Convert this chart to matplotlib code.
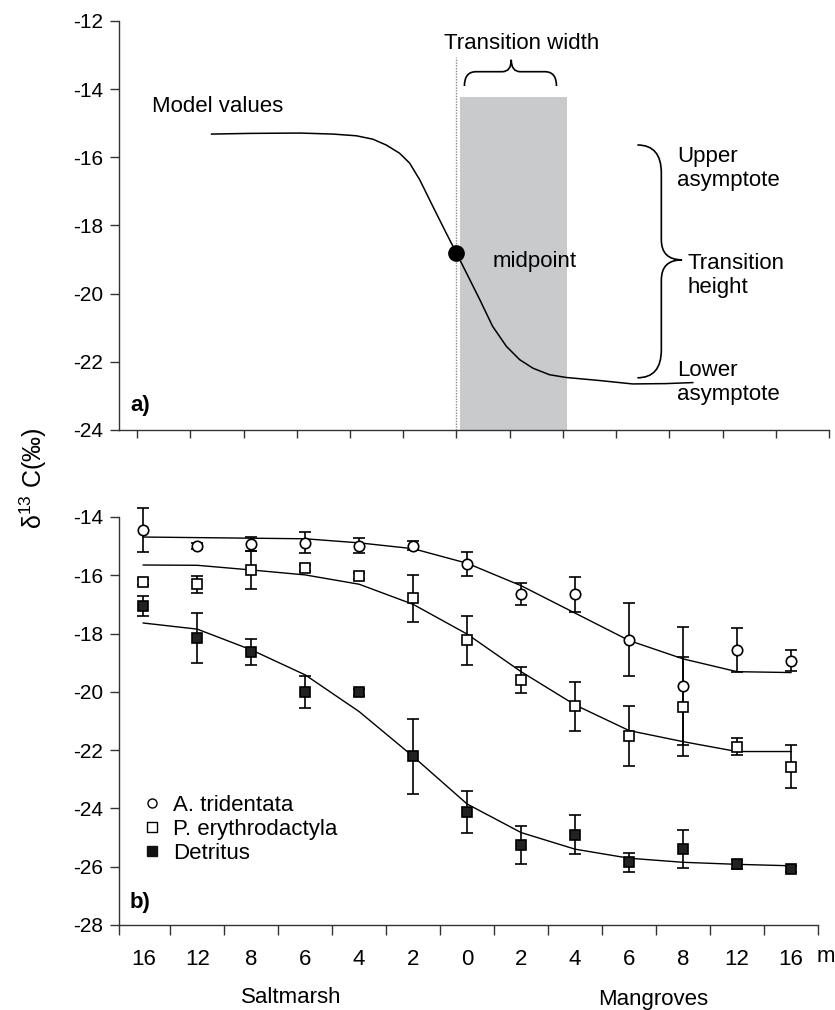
import matplotlib
matplotlib.use("Agg")
import matplotlib.pyplot as plt
from matplotlib.path import Path
from matplotlib.patches import PathPatch, Rectangle
from matplotlib.lines import Line2D

plt.rcParams['font.family'] = ['Liberation Sans', 'DejaVu Sans']
plt.rcParams['mathtext.fontset'] = 'custom'
plt.rcParams['mathtext.rm'] = 'Liberation Sans'
plt.rcParams['mathtext.it'] = 'Liberation Sans:italic'
plt.rcParams['mathtext.bf'] = 'Liberation Sans:bold'

# ########################## DATA ##########################
# panel a) conceptual model curve (x in tick units, read off the picture)
model_x = [1.40, 2.12, 3.06, 3.68, 4.12, 4.43, 4.68, 4.93, 5.12, 5.31, 5.56, 5.81, 6.00,
           6.19, 6.44, 6.68, 6.94, 7.19, 7.44, 7.75, 8.06, 8.69, 9.31, 9.94, 10.44]
model_y = [-15.32, -15.30, -15.29, -15.32, -15.37, -15.47, -15.64, -15.88, -16.17, -16.66,
           -17.45, -18.23, -18.81, -19.40, -20.18, -20.96, -21.55, -21.94, -22.19, -22.38,
           -22.46, -22.55, -22.65, -22.64, -22.61]
midpoint_x = 6.00
midpoint_y = -18.81
width_left = 6.06
width_right = 8.07
width_top = -14.24

# panel b) distance from the ecotone (m)
sites = ['16', '12', '8', '6', '4', '2', '0', '2', '4', '6', '8', '12', '16']

trid_mean = [-14.45, -14.99, -14.93, -14.88, -14.99, -14.99, -15.62, -16.64, -16.66, -18.22, -19.80, -18.56, -18.93]
trid_err = [0.76, 0.10, 0.25, 0.35, 0.25, 0.15, 0.40, 0.37, 0.60, 1.25, 2.03, 0.75, 0.35]
trid_fit = [-14.69, -14.71, -14.73, -14.75, -14.89, -15.09, -15.59, -16.36, -17.30, -18.24, -18.87, -19.31, -19.34]

ery_mean = [-16.24, -16.31, -15.82, -15.74, -16.02, -16.79, -18.24, -19.60, -20.50, -21.51, -20.51, -21.88, -22.57]
ery_err = [0.10, 0.30, 0.66, 0.10, 0.10, 0.80, 0.83, 0.44, 0.85, 1.03, 1.69, 0.30, 0.73]
ery_fit = [-15.65, -15.66, -15.82, -15.99, -16.31, -17.00, -18.02, -19.31, -20.45, -21.33, -21.71, -22.05, -22.05]

det_mean = [-17.05, -18.16, -18.64, -20.01, -20.01, -22.22, -24.14, -25.25, -24.90, -25.85, -25.39, -25.92, -26.08]
det_err = [0.35, 0.86, 0.44, 0.55, 0.12, 1.30, 0.72, 0.66, 0.68, 0.33, 0.65, 0.15, 0.10]
det_fit = [-17.64, -17.85, -18.56, -19.42, -20.68, -22.22, -23.85, -24.83, -25.40, -25.71, -25.85, -25.92, -25.97]

FS = 16
YFS = 15
SPINE = '#333333'


# ########################## HELPERS ##########################
def style_axes(ax):
    for s in ['top', 'right']:
        ax.spines[s].set_visible(False)
    for s in ['left', 'bottom']:
        ax.spines[s].set_color(SPINE)
        ax.spines[s].set_linewidth(1.0)
    ax.tick_params(axis='y', direction='out', length=6.5, width=1.0, color=SPINE, pad=5)


def brace_right(ax, x_end, x_spine, x_tip, y_top, y_mid, y_bot, r_end, r_tip):
    verts = [(x_end, y_top), (x_spine, y_top), (x_spine, y_top - r_end),
             (x_spine, y_mid + r_tip), (x_spine, y_mid), (x_tip, y_mid),
             (x_spine, y_mid), (x_spine, y_mid - r_tip),
             (x_spine, y_bot + r_end), (x_spine, y_bot), (x_end, y_bot)]
    codes = [Path.MOVETO, Path.CURVE3, Path.CURVE3, Path.LINETO, Path.CURVE3, Path.CURVE3,
             Path.CURVE3, Path.CURVE3, Path.LINETO, Path.CURVE3, Path.CURVE3]
    ax.add_patch(PathPatch(Path(verts, codes), fill=False, lw=1.2, color='black', clip_on=False))


def brace_up(ax, x_l, x_r, x_tip, y_end, y_spine, y_tip, r_end, r_tip):
    verts = [(x_l, y_end), (x_l, y_spine), (x_l + r_end, y_spine),
             (x_tip - r_tip, y_spine), (x_tip, y_spine), (x_tip, y_tip),
             (x_tip, y_spine), (x_tip + r_tip, y_spine),
             (x_r - r_end, y_spine), (x_r, y_spine), (x_r, y_end)]
    codes = [Path.MOVETO, Path.CURVE3, Path.CURVE3, Path.LINETO, Path.CURVE3, Path.CURVE3,
             Path.CURVE3, Path.CURVE3, Path.LINETO, Path.CURVE3, Path.CURVE3]
    ax.add_patch(PathPatch(Path(verts, codes), fill=False, lw=1.2, color='black', clip_on=False))


# ########################## FIGURE ##########################
fig = plt.figure(figsize=(8.35, 10.10), dpi=100)
ax1 = fig.add_axes([0.1425, 0.5743, 0.8503, 0.4050])
ax2 = fig.add_axes([0.1425, 0.0842, 0.8371, 0.4040])

# ---------------- panel a) ----------------
style_axes(ax1)
ax1.set_xlim(-0.34, 13.0)
ax1.set_ylim(-24, -12)
ax1.set_yticks(range(-24, -11, 2))
ax1.set_yticklabels([str(v) for v in range(-24, -11, 2)], fontsize=YFS)
ax1.set_xticks(range(14))
ax1.set_xticklabels([])
ax1.tick_params(axis='x', direction='out', length=6, width=1.0, color=SPINE)

ax1.add_patch(Rectangle((width_left, -24), width_right - width_left, width_top + 24,
                        facecolor='#c9cacc', edgecolor='none', zorder=1))
ax1.plot([midpoint_x, midpoint_x], [-24, -13.06], color='#8a8a8a', lw=1.0,
         ls=(0, (1, 1)), zorder=2)
ax1.plot(model_x, model_y, color='black', lw=1.1, zorder=3)
ax1.plot([midpoint_x], [midpoint_y], 'o', color='black', ms=11, zorder=4)

ax1.text(0.28, -14.52, 'Model values', fontsize=FS, ha='left', va='center')
ax1.text(7.22, -12.65, 'Transition width', fontsize=FS, ha='center', va='center')
ax1.text(6.68, -19.07, 'midpoint', fontsize=FS, ha='left', va='center')
ax1.text(10.15, -16.34, 'Upper\nasymptote', fontsize=FS, ha='left', va='center', linespacing=1.2)
ax1.text(10.34, -19.48, 'Transition\nheight', fontsize=FS, ha='left', va='center', linespacing=1.2)
ax1.text(10.15, -22.60, 'Lower\nasymptote', fontsize=FS, ha='left', va='center', linespacing=1.2)
ax1.text(0.0155, 0.059, 'a)', fontsize=FS, fontweight='bold', ha='left', va='center',
         transform=ax1.transAxes)

brace_up(ax1, 6.15, 7.88, 7.03, -13.91, -13.49, -13.14, 0.22, 0.17)
brace_right(ax1, 9.40, 9.85, 10.24, -15.64, -19.01, -22.47, 0.82, 0.59)

# ---------------- panel b) ----------------
style_axes(ax2)
x = list(range(len(sites)))
ax2.set_xlim(-0.45, 12.5)
ax2.set_ylim(-28, -14)
ax2.set_yticks(range(-28, -13, 2))
ax2.set_yticklabels([str(v) for v in range(-28, -13, 2)], fontsize=YFS)
ax2.set_xticks(x)
ax2.set_xticklabels(sites, fontsize=FS)
ax2.set_xticks([-0.45] + [i + 0.5 for i in x], minor=True)
ax2.tick_params(axis='x', which='major', length=0, pad=17)
ax2.tick_params(axis='x', which='minor', direction='out', length=7.5, width=1.0, color=SPINE)

for fit in [trid_fit, ery_fit, det_fit]:
    ax2.plot(x, fit, color='black', lw=1.0, zorder=2, clip_on=False)

ebkw = dict(ls='none', ecolor='black', elinewidth=1.2, capsize=4.5, capthick=1.2,
            mec='black', mew=1.2, zorder=3, clip_on=False)
series = [(trid_mean, trid_err, 'o', 'white', 7.5),
          (ery_mean, ery_err, 's', 'white', 6.5),
          (det_mean, det_err, 's', '#222222', 6.5)]
for mean, err, mk, fc, ms in series:
    eb = ax2.errorbar(x, mean, yerr=err, marker=mk, mfc=fc, ms=ms, **ebkw)
    for art in eb.lines[1] + eb.lines[2]:
        art.set_clip_on(False)

handles = [Line2D([], [], ls='none', marker='o', mfc='white', mec='black', mew=1.0, ms=6.5),
           Line2D([], [], ls='none', marker='s', mfc='white', mec='black', mew=1.0, ms=6.5),
           Line2D([], [], ls='none', marker='s', mfc='#111111', mec='#111111', mew=1.0, ms=6.5)]
ax2.legend(handles, ['A. tridentata', 'P. erythrodactyla', 'Detritus'], loc='upper left',
           bbox_to_anchor=(0.035, 0.318), frameon=False, fontsize=FS, handlelength=0.8,
           handletextpad=0.55, labelspacing=0.12, borderpad=0, borderaxespad=0)

ax2.text(0.0157, 0.056, 'b)', fontsize=FS, fontweight='bold', ha='left', va='center',
         transform=ax2.transAxes)
ax2.annotate('m', xy=(12, 0), xycoords=('data', 'axes fraction'), xytext=(35, -32),
             textcoords='offset pixels', ha='center', va='center', fontsize=FS)

fig.text(0.3485, 0.012, 'Saltmarsh', fontsize=FS, ha='center', va='center')
fig.text(0.782, 0.010, 'Mangroves', fontsize=FS, ha='center', va='center')
fig.text(0.0395, 0.5267, r'δ$^{13}$ C(‰)', fontsize=18, rotation=90, ha='center', va='center')

fig.savefig('out.png', dpi=100)
